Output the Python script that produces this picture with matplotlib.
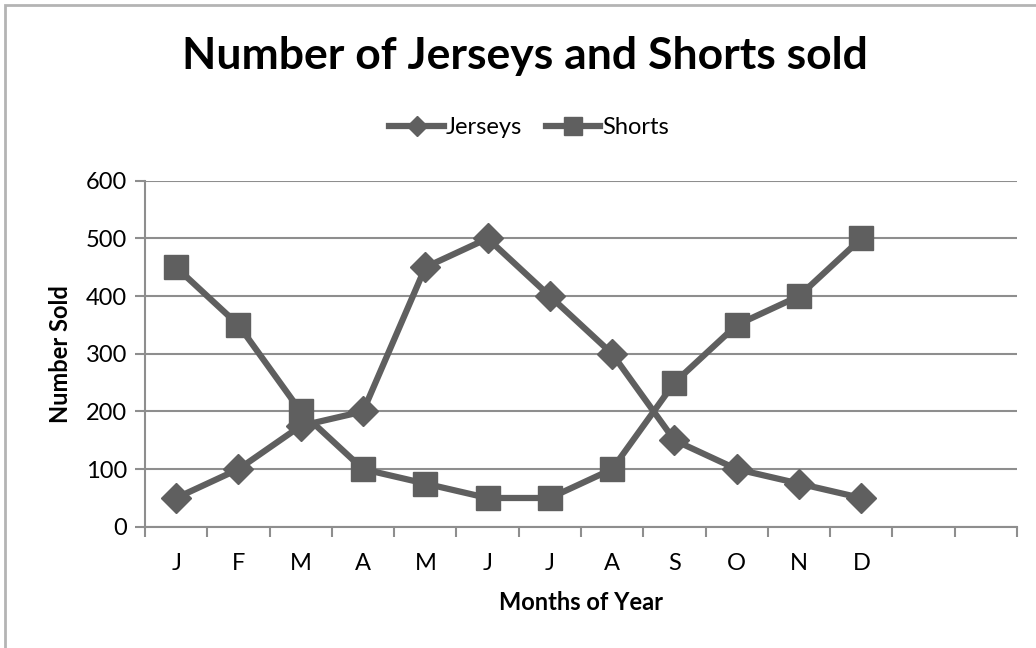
import numpy as np
import matplotlib
matplotlib.use("Agg")
import matplotlib.pyplot as plt
from matplotlib.lines import Line2D

months = ["J", "F", "M", "A", "M", "J", "J", "A", "S", "O", "N", "D", "", ""]
jerseys = [50, 100, 175, 200, 450, 500, 400, 300, 150, 100, 75, 50]
shorts = [450, 350, 200, 100, 75, 50, 50, 100, 250, 350, 400, 500]

plt.rcParams['font.family'] = ['Lato', 'DejaVu Sans']
line_col = '#5f5f5f'
grid_col = '#8e8e8e'

fig = plt.figure(figsize=(10.36, 6.48), dpi=100)
ax = fig.add_axes([0.14, 0.187, 0.8417, 0.534])

x = np.arange(len(jerseys)) + 0.5
ax.plot(x, jerseys, color=line_col, lw=4.5, marker='D', ms=15,
        solid_joinstyle='round', zorder=3)
ax.plot(x, shorts, color=line_col, lw=4.5, marker='s', ms=17,
        solid_joinstyle='round', zorder=3)

ax.set_xlim(0, len(months))
ax.set_ylim(0, 600)
ax.set_yticks(range(0, 601, 100))
ax.set_xticks(np.arange(len(months) + 1))
ax.set_xticklabels([])
ax.set_xticks(np.arange(len(months)) + 0.5, minor=True)
ax.set_xticklabels(months, minor=True)
ax.tick_params(axis='x', which='minor', length=0, pad=19, labelsize=17)
ax.tick_params(axis='x', which='major', length=7, width=1.5, color=grid_col, direction='out')
ax.tick_params(axis='y', length=7, width=1.5, color=grid_col, labelsize=17, pad=6)
ax.yaxis.grid(True, color=grid_col, lw=1.5)
ax.set_axisbelow(True)
for s in ['top', 'right']:
    ax.spines[s].set_visible(False)
for s in ['left', 'bottom']:
    ax.spines[s].set_color(grid_col)
    ax.spines[s].set_linewidth(1.5)

ax.set_xlabel("Months of Year", fontsize=17, fontweight='bold', labelpad=12)
ax.set_ylabel("Number Sold", fontsize=17, fontweight='bold', labelpad=10)

fig.text(0.507, 0.913, "Number of Jerseys and Shorts sold", ha='center', va='center',
         fontsize=32, fontweight='bold')

handles = [Line2D([], [], color=line_col, lw=4.5, marker='D', ms=10),
           Line2D([], [], color=line_col, lw=4.5, marker='s', ms=13)]
fig.legend(handles, ["Jerseys", "Shorts"], loc='center', bbox_to_anchor=(0.511, 0.803),
           ncol=2, frameon=False, fontsize=17, handlelength=2.3, handletextpad=0.1,
           columnspacing=1.0)

fig.add_artist(plt.Rectangle((0.005, -0.05), 1.2, 1.043, transform=fig.transFigure,
                             fill=False, edgecolor='#b4b4b4', lw=2))

fig.savefig("out.png", dpi=100)
